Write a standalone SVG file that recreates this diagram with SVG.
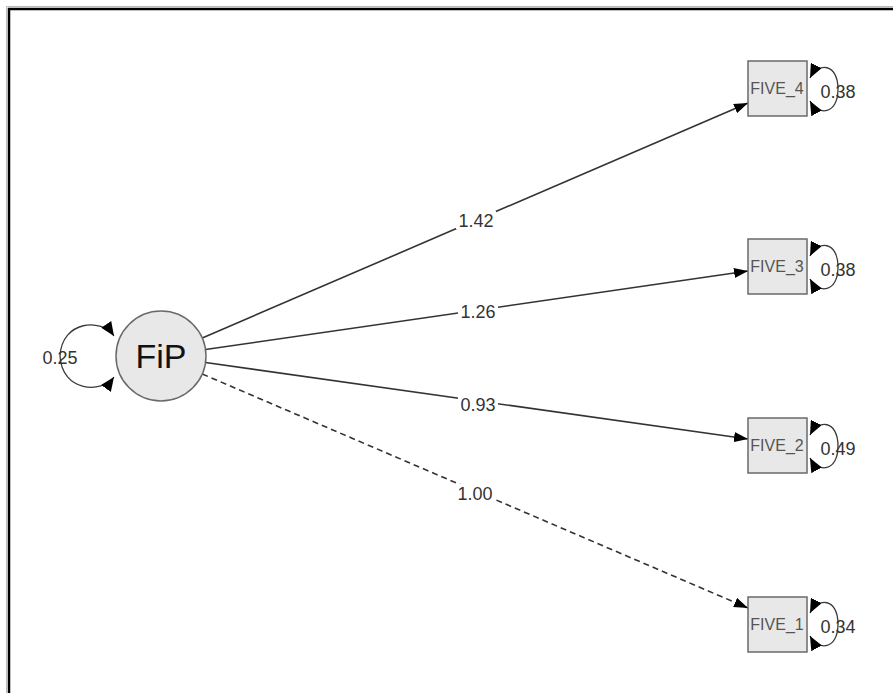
<svg xmlns="http://www.w3.org/2000/svg" width="893" height="693" viewBox="0 0 893 693">
<style>
.edge{fill:none;stroke:#333;stroke-width:1.6}
.dash{stroke-dasharray:6 4}
.loop{fill:none;stroke:#3a3a3a;stroke-width:1.3}
.lbl{font-family:"Liberation Sans",Arial,sans-serif;font-size:18px;fill:#333;text-anchor:middle}
.box{fill:#e8e8e8;stroke:#6a6a6a;stroke-width:1.5}
.boxtxt{font-family:"Liberation Sans",Arial,sans-serif;font-size:16px;fill:#555;text-anchor:middle}
.bg{fill:#ffffff}
</style>
<defs>
<marker id="ah" viewBox="0 0 14 10" refX="14" refY="5" markerWidth="14" markerHeight="10" markerUnits="userSpaceOnUse" orient="auto-start-reverse">
<path d="M0,0 L14,5 L0,10 z" fill="#000"/>
</marker>
<marker id="lh" viewBox="0 0 14 12" refX="14" refY="6" markerWidth="14" markerHeight="12" markerUnits="userSpaceOnUse" orient="auto-start-reverse">
<path d="M0,0 L14,6 L0,12 z" fill="#000"/>
</marker>
</defs>
<rect width="893" height="693" fill="#fff"/>
<path d="M6.5,693 V6.5 H893" fill="none" stroke="#bbb" stroke-width="1"/>
<path d="M9,693 V9 H893" fill="none" stroke="#000" stroke-width="2.5"/>

<g id="connectors">
<line class="edge" x1="202.3" y1="338" x2="748" y2="103" marker-end="url(#ah)"/>
<line class="edge" x1="205.5" y1="349.5" x2="748" y2="271" marker-end="url(#ah)"/>
<line class="edge" x1="205.5" y1="362.5" x2="748" y2="439" marker-end="url(#ah)"/>
<line class="edge dash" x1="202.3" y1="374" x2="748" y2="608" marker-end="url(#ah)"/>
<rect class="bg" x="456" y="211" width="40" height="18"/>
<text class="lbl" x="476" y="227">1.42</text>
<rect class="bg" x="458" y="302" width="40" height="18"/>
<text class="lbl" x="478" y="318">1.26</text>
<rect class="bg" x="458" y="395" width="40" height="18"/>
<text class="lbl" x="478" y="411">0.93</text>
<rect class="bg" x="455" y="484" width="40" height="18"/>
<text class="lbl" x="475" y="500">1.00</text>
<path class="loop" d="M114,336 C102,318 62,320 60,356 C62,392 102,394 114,377" marker-start="url(#lh)" marker-end="url(#lh)"/>
<text class="lbl" x="60" y="364">0.25</text>
<path class="loop" d="M810,78 C818,62 838,63 838,89 C838,115 818,116 810,101" marker-start="url(#lh)" marker-end="url(#lh)"/>
<text class="lbl" x="838" y="98">0.38</text>
<path class="loop" d="M810,256 C818,240 838,241 838,267 C838,293 818,294 810,279" marker-start="url(#lh)" marker-end="url(#lh)"/>
<text class="lbl" x="838" y="276">0.38</text>
<path class="loop" d="M810,435 C818,419 838,420 838,446 C838,472 818,473 810,458" marker-start="url(#lh)" marker-end="url(#lh)"/>
<text class="lbl" x="838" y="455">0.49</text>
<path class="loop" d="M810,613 C818,597 838,598 838,624 C838,650 818,651 810,636" marker-start="url(#lh)" marker-end="url(#lh)"/>
<text class="lbl" x="838" y="633">0.34</text>
</g>

<g id="FiP">
<circle cx="161" cy="356" r="45" fill="#e8e8e8" stroke="#6a6a6a" stroke-width="1.5"/>
<text x="161" y="368" font-family="Liberation Sans,Arial,sans-serif" font-size="34" fill="#111" text-anchor="middle">FiP</text>
</g>
<g id="FIVE_4">
<rect class="box" x="748" y="61" width="59" height="55"/>
<text class="boxtxt" x="777" y="94">FIVE_4</text>
</g>
<g id="FIVE_3">
<rect class="box" x="748" y="239" width="59" height="55"/>
<text class="boxtxt" x="777" y="272">FIVE_3</text>
</g>
<g id="FIVE_2">
<rect class="box" x="748" y="418" width="59" height="55"/>
<text class="boxtxt" x="777" y="451">FIVE_2</text>
</g>
<g id="FIVE_1">
<rect class="box" x="748" y="597" width="59" height="55"/>
<text class="boxtxt" x="777" y="630">FIVE_1</text>
</g>
</svg>
